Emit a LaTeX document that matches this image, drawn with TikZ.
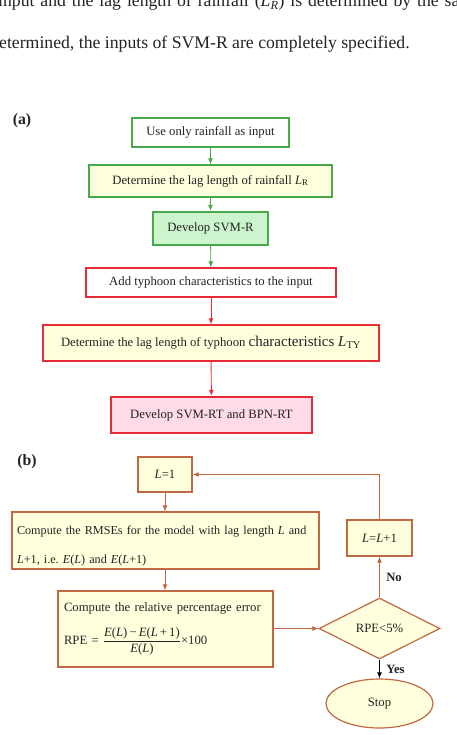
\documentclass[tikz,border=0pt]{standalone}
\usepackage{fontspec}
\setmainfont{Liberation Serif}
\usetikzlibrary{arrows.meta,shapes.geometric,scopes}
\definecolor{gline}{RGB}{70,170,75}
\definecolor{gfill}{RGB}{205,245,205}
\definecolor{rline}{RGB}{230,45,55}
\definecolor{pfill}{RGB}{255,218,232}
\definecolor{bline}{RGB}{190,105,65}
\definecolor{yfill}{RGB}{255,255,222}
\definecolor{txt}{RGB}{35,35,35}
\newcommand{\boxfont}{\fontsize{12.7}{15}\selectfont}
\newcommand{\vL}{\textit{L}}
\newcommand{\vE}{\textit{E}}
\frenchspacing

\begin{document}
\begin{tikzpicture}[x=1pt,y=-1pt,
    box/.style={rectangle,draw,inner sep=0pt,text=txt,font=\boxfont,line width=1.2pt},
    gbox/.style={box,draw=gline},
    rbox/.style={box,draw=rline},
    bbox/.style={box,draw=bline,fill=yfill},
    link/.style={line width=0.9pt,-{Latex[length=6pt,width=5pt]}},
    tag/.style={font=\fontsize{15.8}{18}\selectfont\bfseries,text=txt},
    ans/.style={font=\boxfont\bfseries,text=txt,right,xshift=3pt},
    body/.style={font=\fontsize{17.7}{20}\selectfont,text=txt,inner sep=0pt,anchor=base west},
]
\clip (0,0) rectangle (457,735);
\fill[white] (0,0) rectangle (457,735);
% running text above the figure
\node[body,text width=464pt,anchor=south west] (line1) at (-2,11)
  {\parfillskip=0pt input and the lag length of rainfall (\textit{L\textsubscript{R}}) is determined by the sa};
\node[body] (line2) at (-1,49) {etermined, the inputs of SVM-R are completely specified.};

% (a) model building
\node[tag] (a) at (22,121) {(a)};
\node[gbox,fill=white,minimum width=157pt,minimum height=29pt] (rain) at (210.5,132.5) {Use only rainfall as input};
\node[gbox,fill=yfill,minimum width=243pt,minimum height=32pt] (lagR) at (210.5,181) {Determine the lag length of rainfall \vL\textsubscript{R}};
\node[gbox,fill=gfill,line width=2.4pt,minimum width=115pt,minimum height=33pt] (svmR) at (210.5,228.5) {Develop SVM-R};
\node[rbox,fill=white,minimum width=250pt,minimum height=29pt] (addTY) at (211,282.5) {Add typhoon characteristics to the input};
\node[rbox,fill=yfill,minimum width=336pt,minimum height=36pt] (lagTY) at (211,343) {Determine the lag length of typhoon {\fontsize{15}{18}\selectfont characteristics \vL\textsubscript{TY}}};
\node[rbox,fill=pfill,line width=2.4pt,minimum width=201pt,minimum height=36pt] (svmRT) at (211.5,415) {Develop SVM-RT and BPN-RT};
{[link,gline]
\draw (rain) -- (lagR);
\draw (lagR) -- (svmR);
\draw (svmR) -- (addTY);
}
{[link,rline]
\draw (addTY) -- (lagTY);
\draw (lagTY) -- (svmRT);
}

% (b) lag length search
\node[tag] (b) at (27,462) {(b)};
\node[bbox,minimum width=54pt,minimum height=35pt] (L1) at (165,474.5) {\vL=1};
\node[bbox,minimum width=307pt,minimum height=57pt,text width=297pt,align=left,
      font=\fontsize{12.2}{29}\selectfont] (rmse) at (165.5,540.5)
  {\rule{0pt}{19pt}Compute the RMSEs for the model with lag length \vL{} and\\\vL+1, i.e. \vE(\vL) and \vE(\vL+1)};
\node[bbox,minimum width=215pt,minimum height=76pt,text width=203pt,align=left] (rpe) at (165.5,629)
  {Compute the relative percentage error\\[12pt]
   RPE = $\displaystyle\frac{\hbox{\vE(\vL)\,−\,\vE(\vL\,+\,1)}}{\hbox{\vE(\vL)}}$×100};
\node[bbox,minimum width=65pt,minimum height=36pt] (Lnext) at (379.5,538) {\vL=\vL+1};
\node[bbox,diamond,minimum width=121pt,minimum height=61pt] (test) at (379.5,628.5) {RPE<5\%};
\node[bbox,ellipse,minimum width=107pt,minimum height=49pt] (stop) at (379.5,703.5) {Stop};
{[link,bline]
\draw (L1) -- (rmse.north -| L1);
\draw (rmse.south -| L1) -- (rpe.north -| L1);
\draw (rpe.east |- test) -- (test.west);
\draw (test.north) -- node[ans] (no) {No} (Lnext.south);
\draw (Lnext.north) |- (L1.east); % loop back
}
\draw[link,black] (test.south) -- node[ans] (yes) {Yes} (stop.north);
\end{tikzpicture}
\end{document}
